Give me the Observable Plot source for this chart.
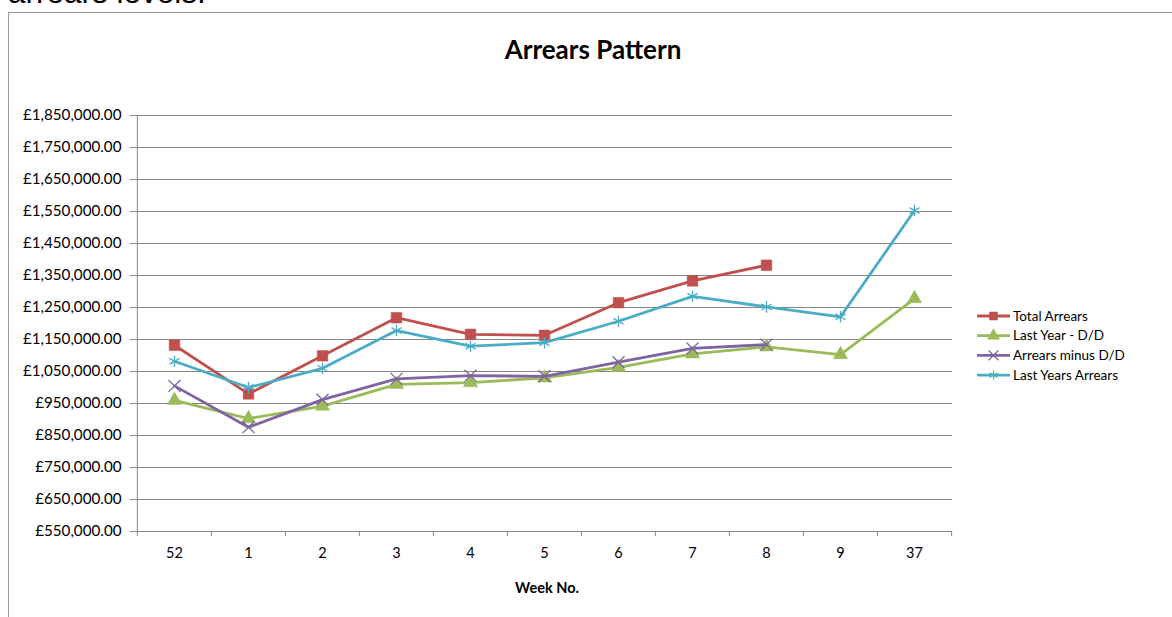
<!DOCTYPE html>
<html>
<head>
<meta charset="utf-8">
<script src="https://cdn.jsdelivr.net/npm/d3@7"></script>
<script src="https://cdn.jsdelivr.net/npm/@observablehq/plot@0.6"></script>
<style>
  html, body { margin: 0; padding: 0; background: #fff; overflow: hidden; width: 1172px; height: 617px; }
  #wrap { position: relative; width: 1172px; height: 617px; font-family: Lato, "Open Sans", sans-serif; overflow: hidden; }
  #chart { position: absolute; left: 0; top: 0; }
  #frame { position: absolute; left: 8px; top: 12px; width: 1200px; height: 700px; border-left: 1px solid #9a9a9a; border-top: 1px solid #9a9a9a; box-sizing: border-box; }
  #above { position: absolute; left: 8px; top: -23px; font-family: "Liberation Sans", Arial, sans-serif; font-size: 31.5px; line-height: 31px; color: #000; white-space: nowrap; }
  #title { position: absolute; left: 0; width: 1186px; top: 33px; text-align: center; font-weight: bold; font-size: 26px; color: #000; }
  #legend { position: absolute; left: 975px; top: 305px; }
</style>
</head>
<body>
<div id="wrap">
  <div id="above">arrears levels.</div>
  <div id="frame"></div>
  <div id="title">Arrears Pattern</div>
  <div id="chart"></div>
  <svg id="legend" width="190" height="90"></svg>
</div>
<script>
// ---- data ----
const weeks = ["52", "1", "2", "3", "4", "5", "6", "7", "8", "9", "37"];
const totalArrears     = [1132000, 980000, 1099000, 1218000, 1166000, 1163000, 1265000, 1333000, 1382000, null, null];
const lastYearDD       = [960000, 903000, 942000, 1010000, 1015000, 1030000, 1063000, 1105000, 1127000, 1103000, 1278000];
const arrearsMinusDD   = [1005000, 876000, 962000, 1027000, 1037000, 1035000, 1079000, 1122000, 1134000, null, null];
const lastYearsArrears = [1082000, 1000000, 1060000, 1178000, 1129000, 1140000, 1207000, 1285000, 1252000, 1221000, 1553000];
const yTicks = [550000, 650000, 750000, 850000, 950000, 1050000, 1150000, 1250000, 1350000, 1450000, 1550000, 1650000, 1750000, 1850000];
const seriesNames = ["Total Arrears", "Last Year - D/D", "Arrears minus D/D", "Last Years Arrears"];

const seriesValues = [totalArrears, lastYearDD, arrearsMinusDD, lastYearsArrears];
const colors = ["#C0504D", "#9BBB59", "#8064A2", "#4BACC6"];
const symbols = ["square", "triangle", "times", "asterisk"];
const radii = [6, 5.3, 5.5, 5.5];

const W = 1172, H = 617;
const mL = 135, mR = 220, mT = 115, mB = 86;
const step = (W - mL - mR) / weeks.length;

const rows = seriesNames.map((name, s) =>
  weeks.map((w, i) => ({week: w, value: seriesValues[s][i], series: name})).filter(d => d.value != null)
);

const fmt = d3.format(",.2f");
const gray = "#868686";

const seriesMarks = [];
rows.forEach((data, s) => {
  seriesMarks.push(Plot.line(data, {x: "week", y: "value", stroke: colors[s], strokeWidth: 2.8}));
  const isStroke = symbols[s] === "times" || symbols[s] === "asterisk";
  seriesMarks.push(Plot.dot(data, {
    x: "week", y: "value", symbol: () => symbols[s], r: radii[s],
    fill: isStroke ? "none" : colors[s],
    stroke: colors[s], strokeWidth: isStroke ? 1.3 : 0.5
  }));
});

const chart = Plot.plot({
  width: W, height: H,
  marginLeft: mL, marginRight: mR, marginTop: mT, marginBottom: mB,
  style: {fontFamily: "Lato, 'Open Sans', sans-serif", background: "transparent", color: "#000"},
  x: {type: "point", domain: weeks, padding: 0.5},
  y: {domain: [550000, 1850000]},
  symbol: {type: "identity"},
  marks: [
    Plot.gridY(yTicks.slice(1), {stroke: gray, strokeOpacity: 1, strokeWidth: 1}),
    Plot.ruleY([550000], {stroke: gray, strokeWidth: 1}),
    Plot.ruleX([weeks[0]], {stroke: gray, strokeWidth: 1, dx: -step / 2}),
    Plot.ruleX(weeks, {x: d => d, y1: 550000, y2: 550000, insetBottom: -5, dx: -step / 2, stroke: gray}),
    Plot.ruleX([weeks[weeks.length - 1]], {x: d => d, y1: 550000, y2: 550000, insetBottom: -5, dx: step / 2, stroke: gray}),
    Plot.axisY(yTicks, {tickFormat: d => "£" + fmt(d), tickSize: 5, tickPadding: 9, stroke: gray, fontSize: 15.2, fill: "#000", label: null}),
    Plot.axisX(weeks, {tickSize: 0, tickPadding: 16, fontSize: 14.5, fill: "#000", label: null}),
    Plot.text(["Week No."], {frameAnchor: "bottom", dy: 61, dx: 3, fontWeight: "bold", fontSize: 14.5, fill: "#000"}),
    ...seriesMarks
  ]
});
document.getElementById("chart").appendChild(chart);

// ---- legend ----
const leg = d3.select("#legend");
const symMap = {square: d3.symbolSquare, triangle: d3.symbolTriangle, times: d3.symbolTimes, asterisk: d3.symbolAsterisk};
seriesNames.forEach((name, s) => {
  const y = 11 + s * 19.7;
  const g = leg.append("g");
  g.append("line").attr("x1", 2).attr("x2", 35).attr("y1", y).attr("y2", y).attr("stroke", colors[s]).attr("stroke-width", 2.8);
  const isStroke = symbols[s] === "times" || symbols[s] === "asterisk";
  g.append("path").attr("transform", `translate(18.5,${y})`)
    .attr("d", d3.symbol(symMap[symbols[s]], Math.PI * 4.5 * 4.5)())
    .attr("fill", isStroke ? "none" : colors[s]).attr("stroke", colors[s]).attr("stroke-width", isStroke ? 1.2 : 0.5);
  g.append("text").attr("x", 38).attr("y", y).attr("dy", "0.35em")
    .attr("font-size", 13.5).attr("font-family", "Lato, 'Open Sans', sans-serif").attr("fill", "#000").text(name);
});
</script>
</body>
</html>
